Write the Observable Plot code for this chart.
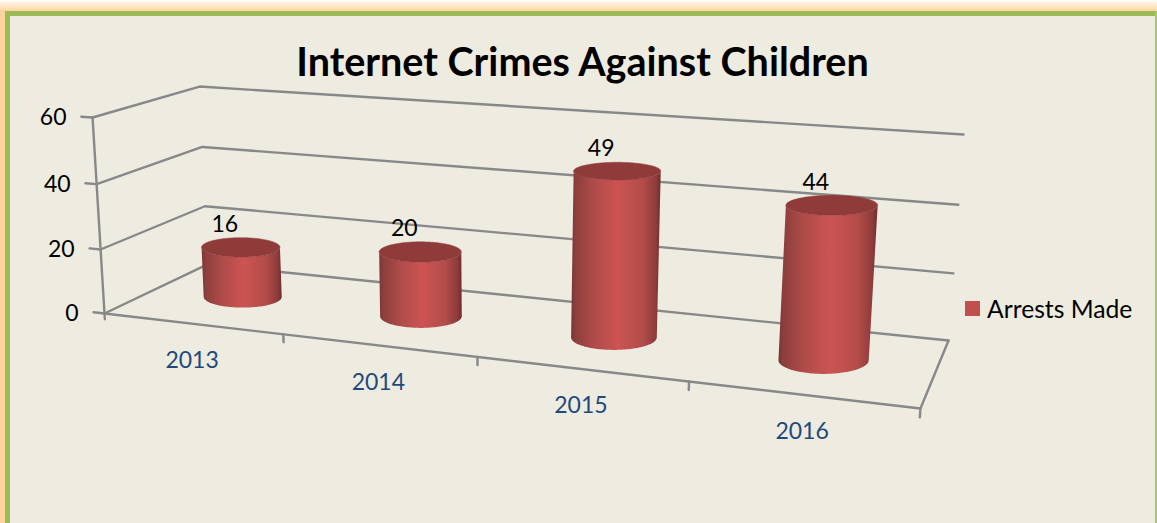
<!DOCTYPE html>
<html>
<head>
<meta charset="utf-8">
<script src="https://cdn.jsdelivr.net/npm/d3@7"></script>
<script src="https://cdn.jsdelivr.net/npm/@observablehq/plot@0.6"></script>
<style>
  html, body { margin: 0; padding: 0; background: #EEECE1; overflow: hidden; }
  #page { position: relative; width: 1157px; height: 523px; background: #EEECE1; overflow: hidden; font-family: Lato, "Open Sans", sans-serif; }
  #glowTop { position: absolute; left: 0; top: 0; width: 1157px; height: 12px; background: linear-gradient(#ffffff, #FFEFD9 30%, #FFD39B); }
  #glowLeft { position: absolute; left: 0; top: 10px; width: 5px; height: 513px; background: #FFD39B; }
  #frameTop { position: absolute; left: 5px; top: 11px; width: 1152px; height: 5px; background: #9BBB59; }
  #frameLeft { position: absolute; left: 5px; top: 11px; width: 5px; height: 512px; background: #9BBB59; }
  #frameRight { position: absolute; left: 1155px; top: 11px; width: 2px; height: 512px; background: #A9C56F; }
  #plot { position: absolute; left: 0; top: 0; }
  #plot svg { background: transparent !important; display: block; }
  h1 { position: absolute; left: 0; top: 37px; width: 1165px; margin: 0; text-align: center; font-size: 39.5px; line-height: 48px; font-weight: 700; color: #000; white-space: nowrap; }
  #legend { position: absolute; left: 965px; top: 293px; height: 30px; display: flex; align-items: center; font-size: 24.7px; color: #000; white-space: nowrap; }
  #legend i { display: block; width: 15px; height: 15px; background: #C0504D; margin-right: 7px; }
</style>
</head>
<body>
<div id="page">
  <div id="glowTop"></div><div id="glowLeft"></div>
  <div id="frameTop"></div><div id="frameLeft"></div><div id="frameRight"></div>
  <div id="plot"></div>
  <h1>Internet Crimes Against Children</h1>
  <div id="legend"><i></i><span>Arrests Made</span></div>
</div>
<script>
// ---- chart values ----
const categories = ["2013", "2014", "2015", "2016"];
const arrestsMade = [16, 20, 49, 44];
const valueTicks = [0, 20, 40, 60];
const valueMax = 60;

// ---- 3D camera: category position u, depth d, height h (all 0..1) to picture space ----
const cam = {
  x: [104, 670.6, 125.1, -14.7],
  y: [313, 30.5, -20.8, -199.5],
  w: [1, -0.158, 0.107, -0.03]
};
const dot3 = (m, u, d, h) => m[0] + m[1] * u + m[2] * d + m[3] * h;
const project = (u, d, h) => {
  const w = dot3(cam.w, u, d, h);
  return { px: dot3(cam.x, u, d, h) / w, py: dot3(cam.y, u, d, h) / w };
};
const n = categories.length;
const heightOf = v => v / valueMax;
const segment = (id, a, b) => [
  { id, ...project(...a) },
  { id, ...project(...b) }
];

// ---- frame: walls, floor, grid, ticks ----
const gridLines = [];
valueTicks.forEach(v => {
  const h = heightOf(v);
  gridLines.push({ id: "g" + v, ...project(0, 0, h) });
  gridLines.push({ id: "g" + v, ...project(0, 1, h) });
  gridLines.push({ id: "g" + v, ...project(1, 1, h) });
  gridLines.push(...segment("lt" + v, [-0.016, 0, h], [0, 0, h]));
});
gridLines.push(...segment("axis", [0, 0, 1], [0, 0, -0.03]));
gridLines.push({ id: "floor", ...project(0, 0, 0) });
gridLines.push({ id: "floor", ...project(1, 0, 0) });
gridLines.push({ id: "floor", ...project(1, 1, 0) });
d3.range(1, n + 1).forEach(i =>
  gridLines.push(...segment("bt" + i, [i / n, 0, 0], [i / n, 0, -0.04]))
);

// ---- cylinders: discs stay level on screen, centred on their projected axis ----
const ru = 0.054, rd = 0.21, dc = 0.5, steps = 72;
const widthPerspective = 0.6, widthBase = 42;
const disc = (uc, h) => {
  const c = project(uc, dc, h);
  const rp = (project(uc + ru, dc, h).px - project(uc - ru, dc, h).px) / 2;
  const rx = widthPerspective * rp + (1 - widthPerspective) * widthBase;
  const ry = (project(uc, dc - rd, h).py - project(uc, dc + rd, h).py) / 2;
  return a => ({ px: c.px - rx * Math.cos(a), py: c.py + ry * Math.sin(a) });
};
const bodies = [], tops = [];
categories.forEach((c, i) => {
  const uc = (i + 0.5) / n, top = heightOf(arrestsMade[i]);
  const base = disc(uc, 0), lid = disc(uc, top);
  d3.range(steps + 1).forEach(k => bodies.push({ id: c, ...base(Math.PI * k / steps) }));
  d3.range(steps + 1).forEach(k => bodies.push({ id: c, ...lid(Math.PI * (steps - k) / steps) }));
  d3.range(steps * 2).forEach(k => tops.push({ id: c, ...lid(Math.PI * k / steps) }));
});

// ---- labels ----
const valueLabels = valueTicks.map(v => ({ label: String(v), ...project(0, 0, heightOf(v)) }));
const catLabels = categories.map((c, i) => ({ label: c, ...project((i + 0.5) / n, 0, 0) }));
const dataLabels = categories.map((c, i) => ({
  label: String(arrestsMade[i]),
  ...project((i + 0.5) / n, dc, heightOf(arrestsMade[i]))
}));

const gradientStops = [
  [0, "#7A3533"], [0.05, "#8C3F3D"], [0.25, "#AE4B49"], [0.52, "#CC5452"],
  [0.8, "#B34C4A"], [0.95, "#8C3B39"], [1, "#6B2D2C"]
];
const cylinderGradient = () => {
  const defs = d3.create("svg:defs");
  const g = defs.append("linearGradient").attr("id", "cyl").attr("x1", 0).attr("x2", 1).attr("y1", 0).attr("y2", 0);
  gradientStops.forEach(([o, c]) => g.append("stop").attr("offset", o).attr("stop-color", c));
  return defs.node();
};

const chart = Plot.plot({
  width: 1157, height: 523,
  margin: 0,
  x: { domain: [0, 1157], range: [0, 1157], axis: null },
  y: { domain: [0, 523], range: [0, 523], axis: null },
  style: { background: "transparent", fontFamily: "Lato, 'Open Sans', sans-serif" },
  marks: [
    cylinderGradient,
    Plot.line(gridLines, { x: "px", y: "py", z: "id", stroke: "#888888", strokeWidth: 2.4, strokeLinejoin: "miter" }),
    Plot.line(bodies, { x: "px", y: "py", z: "id", fill: "url(#cyl)", stroke: "none", curve: "linear-closed" }),
    Plot.line(tops, { x: "px", y: "py", z: "id", fill: "#8E3B3A", stroke: "#8E3B3A", strokeWidth: 0.5, curve: "linear-closed" }),
    Plot.text(valueLabels, { x: "px", y: "py", text: "label", textAnchor: "end", dx: -26, fontSize: 23, fill: "#000" }),
    Plot.text(catLabels, { x: "px", y: "py", text: "label", dy: 37, fontSize: 23, fill: "#1F497D" }),
    Plot.text(dataLabels, { x: "px", y: "py", text: "label", dx: -16, dy: -23, fontSize: 23, fill: "#000" })
  ]
});
document.getElementById("plot").appendChild(chart);
</script>
</body>
</html>
